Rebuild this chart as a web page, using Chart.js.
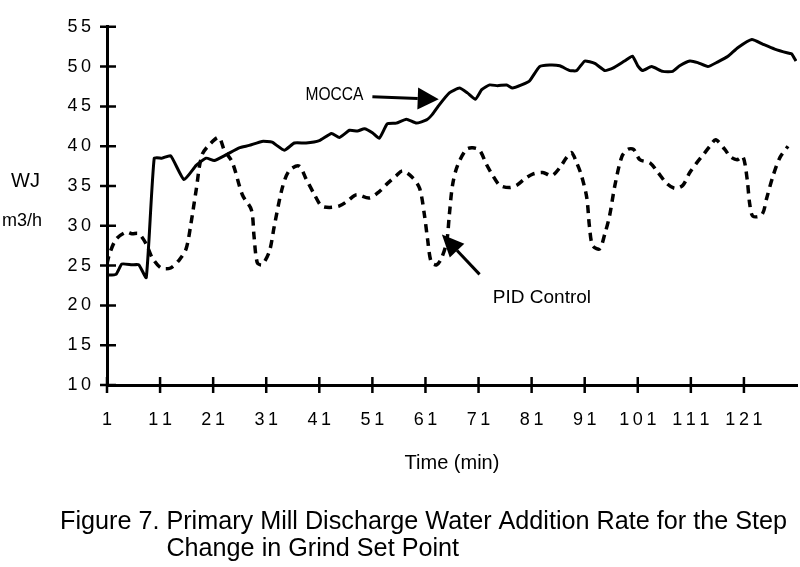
<!DOCTYPE html>
<html>
<head>
<meta charset="utf-8">
<title>Figure 7</title>
<script src="https://cdn.jsdelivr.net/npm/chart.js@4.4.1/dist/chart.umd.min.js"></script>
<style>
	html, body { margin: 0; padding: 0; background: #fff; }
	#wrap { width: 800px; height: 567px; }
</style>
</head>
<body>
<div id="wrap"><canvas id="millChart" width="800" height="567"></canvas></div>
<script>
// tick labels
const xTicks = [1, 11, 21, 31, 41, 51, 61, 71, 81, 91, 101, 111, 121];
const yTicks = [10, 15, 20, 25, 30, 35, 40, 45, 50, 55];

// MOCCA (solid line), time in min and WJ in m3/h
const moccaTime = [1, 2.7, 3.8, 5.7, 7, 8.4, 9.9, 11.4, 13, 15.5, 17.8, 19.7, 21.2, 23.4, 25.9, 27.8, 30.2, 32.1, 34.4, 36.3, 38.5, 41, 43.3, 44.8, 46.7, 48.2, 49.5, 51, 52.3, 53.8, 55.5, 57.4, 59.3, 61.2, 62.3, 63.6, 65.5, 67.4, 68.9, 70.4, 71.6, 73.1, 74.6, 76.3, 77.4, 79.1, 80.6, 82.5, 84.4, 86.3, 88.2, 89.5, 91, 92.9, 94.8, 96.3, 98.5, 100, 101, 101.9, 103.6, 105.7, 107.6, 108.9, 110.8, 112.3, 114.2, 116.1, 118, 119.9, 122.5, 124.6, 126.8, 129.3, 130, 130.8];
const moccaWJ = [23.8, 23.9, 25.2, 25.1, 25.1, 23.5, 38.5, 38.5, 38.8, 35.8, 37.6, 38.5, 38.2, 38.9, 39.8, 40.1, 40.6, 40.5, 39.5, 40.4, 40.4, 40.7, 41.6, 41.1, 42, 41.9, 42.2, 41.7, 41, 42.8, 42.9, 43.4, 42.9, 43.3, 44, 45.2, 46.7, 47.3, 46.7, 45.9, 47.1, 47.7, 47.6, 47.7, 47.3, 47.7, 48.2, 50, 50.2, 50.1, 49.5, 49.5, 50.7, 50.4, 49.5, 49.8, 50.7, 51.3, 50.1, 49.5, 50, 49.4, 49.4, 50.1, 50.7, 50.5, 50, 50.6, 51.3, 52.4, 53.4, 52.8, 52.2, 51.7, 51.6, 50.7];

// PID Control (dashed line)
const pidTime = [1, 1.4, 2.7, 4.6, 5.7, 7, 8.4, 9.5, 11.2, 13, 14.6, 15.9, 16.8, 17.8, 18.9, 20.6, 22.1, 23.1, 24.6, 26.5, 28.2, 28.7, 29.3, 30.2, 31.6, 32.5, 34, 35.3, 37.2, 38.5, 40.1, 41.4, 42.9, 44.8, 46.3, 48, 50.4, 52.3, 53.8, 55.5, 56.7, 58.5, 59.9, 60.8, 61.4, 62.1, 63.1, 64, 65, 65.5, 66.1, 67, 68.7, 69.9, 71.2, 72.5, 73.7, 75, 76.8, 78.2, 79.7, 81.2, 83.1, 84.8, 86.3, 87.6, 88.5, 89.5, 90.4, 91.4, 91.9, 92.5, 93.8, 94.8, 95.7, 96.7, 98, 99.1, 100.2, 101.4, 103.3, 104.8, 106.5, 108, 109.5, 110.8, 112.1, 113.3, 114.6, 115.7, 117.4, 118.4, 119.7, 120.8, 121.6, 122.1, 122.7, 124.4, 125.3, 126.5, 127.8, 129.3];
const pidWJ = [25.2, 26.3, 28.3, 29.2, 29, 29, 27.7, 26, 24.7, 24.7, 25.7, 27.1, 30.2, 34.5, 38.9, 40.4, 41.1, 39.5, 38, 33.9, 32, 28.7, 25.4, 25.1, 26.8, 29.9, 34.7, 36.9, 37.5, 35.9, 33.9, 32.5, 32.3, 32.5, 33.1, 33.9, 33.5, 34.3, 35.3, 36.3, 36.9, 36.1, 34.7, 31.4, 28.3, 25.4, 25.1, 25.9, 28, 31.4, 35.1, 37.5, 39.6, 39.8, 39.5, 37.7, 36.3, 35.1, 34.8, 35.1, 35.9, 36.5, 36.7, 36.3, 37.3, 38.6, 39.2, 37.9, 36.3, 33.5, 29.9, 27.5, 27.1, 29, 31.3, 35.1, 38.7, 39.6, 39.6, 38.3, 37.9, 36.7, 35.3, 34.7, 35.1, 36.7, 37.9, 38.9, 40, 40.8, 39.6, 38.7, 38.3, 38.7, 35.9, 32.7, 31.2, 31.4, 33.5, 36.3, 38.6, 40];

const sans = "'Liberation Sans', Arial, sans-serif";
const tickFont = { family: sans, size: 18 };
const spaced = (v) => String(v).split("").join("\u2009"); // the scan has wide digit spacing

function toPoints(times, values) {
	return times.map((t, i) => ({ x: t, y: values[i] }));
}

// arrows, labels, crossing tick marks and the caption
const figureText = {
	id: "figureText",
	afterDraw(chart) {
		const { ctx, chartArea } = chart;
		const x = chart.scales.x;
		const y = chart.scales.y;
		ctx.save();
		ctx.strokeStyle = "#000";
		ctx.fillStyle = "#000";
		ctx.lineWidth = 2.5;

		// tick marks go through the axis line
		ctx.beginPath();
		x.ticks.forEach((t) => {
			const px = x.getPixelForValue(t.value);
			ctx.moveTo(px, chartArea.bottom - 8);
			ctx.lineTo(px, chartArea.bottom + 8);
		});
		y.ticks.forEach((t) => {
			const py = y.getPixelForValue(t.value);
			ctx.moveTo(chartArea.left - 7, py);
			ctx.lineTo(chartArea.left + 9, py);
		});
		ctx.stroke();

		// y axis title, written horizontally
		ctx.textBaseline = "middle";
		ctx.textAlign = "left";
		ctx.font = "20px " + sans;
		ctx.fillText("WJ", 11, y.getPixelForValue(35.6));
		ctx.font = "18px " + sans;
		ctx.fillText("m3/h", 2, y.getPixelForValue(30.6));

		// MOCCA label + arrow
		ctx.save();
		ctx.font = "18px " + sans;
		ctx.translate(x.getPixelForValue(38.4), y.getPixelForValue(46.4));
		ctx.scale(58 / ctx.measureText("MOCCA").width, 1);
		ctx.fillText("MOCCA", 0, 0);
		ctx.restore();
		drawArrow(ctx, x.getPixelForValue(51), y.getPixelForValue(46.2), x.getPixelForValue(63.5), y.getPixelForValue(45.9), 21, 11);

		// PID Control label + arrow
		ctx.font = "19px " + sans;
		ctx.fillText("PID Control", x.getPixelForValue(73.7), y.getPixelForValue(20.9));
		drawArrow(ctx, x.getPixelForValue(71.2), y.getPixelForValue(23.9), x.getPixelForValue(64.1), y.getPixelForValue(28.9), 22, 10);

		// caption under the chart, squeezed to the scan's width
		ctx.font = "25px " + sans;
		const lead = "Figure 7. ";
		const line1 = lead + "Primary Mill Discharge Water Addition Rate for the Step";
		const sx = 727 / ctx.measureText(line1).width;
		ctx.translate(60, 522);
		ctx.scale(sx, 1);
		ctx.fillText(line1, 0, 0);
		ctx.fillText("Change in Grind Set Point", ctx.measureText(lead).width, 27);
		ctx.restore();
	},
};

function drawArrow(ctx, x1, y1, x2, y2, headLen, halfW) {
	const ang = Math.atan2(y2 - y1, x2 - x1);
	const bx = x2 - headLen * Math.cos(ang);
	const by = y2 - headLen * Math.sin(ang);
	ctx.lineWidth = 3;
	ctx.beginPath();
	ctx.moveTo(x1, y1);
	ctx.lineTo(bx, by);
	ctx.stroke();
	ctx.beginPath();
	ctx.moveTo(x2, y2);
	ctx.lineTo(bx + halfW * Math.sin(ang), by - halfW * Math.cos(ang));
	ctx.lineTo(bx - halfW * Math.sin(ang), by + halfW * Math.cos(ang));
	ctx.closePath();
	ctx.fill();
}

const ctx = document.getElementById("millChart");
new Chart(ctx, {
	type: "line",
	data: {
		datasets: [
			{
				label: "MOCCA",
				data: toPoints(moccaTime, moccaWJ),
				borderColor: "#000",
				borderWidth: 3,
				pointRadius: 0,
				tension: 0.15,
			},
			{
				label: "PID Control",
				data: toPoints(pidTime, pidWJ),
				borderColor: "#000",
				borderWidth: 3.5,
				borderDash: [8, 6],
				pointRadius: 0,
				tension: 0.3,
			},
		],
	},
	options: {
		responsive: false,
		animation: false,
		layout: { padding: { top: 11, right: 3, bottom: 82, left: 0 } },
		plugins: {
			legend: { display: false },
			tooltip: { enabled: false },
		},
		scales: {
			x: {
				type: "linear",
				min: 1,
				max: 131,
				afterBuildTicks: (scale) => {
					scale.ticks = xTicks.map((v) => ({ value: v }));
				},
				afterFit: (scale) => {
					scale.height = 100;
				},
				ticks: {
					autoSkip: false,
					maxRotation: 0,
					padding: 24,
					color: "#000",
					font: tickFont,
					callback: spaced,
				},
				grid: { display: false, drawTicks: false },
				border: { display: true, color: "#000", width: 3 },
				title: {
					display: true,
					text: "Time (min)",
					color: "#000",
					font: { family: sans, size: 20 },
					padding: { top: 0, bottom: 10 },
				},
			},
			y: {
				min: 10,
				max: 55,
				afterBuildTicks: (scale) => {
					scale.ticks = yTicks.map((v) => ({ value: v }));
				},
				afterFit: (scale) => {
					scale.width = 107;
				},
				ticks: {
					padding: 16,
					color: "#000",
					font: tickFont,
					callback: spaced,
				},
				grid: { display: false, drawTicks: false },
				border: { display: true, color: "#000", width: 3 },
			},
		},
	},
	plugins: [figureText],
});
</script>
</body>
</html>
